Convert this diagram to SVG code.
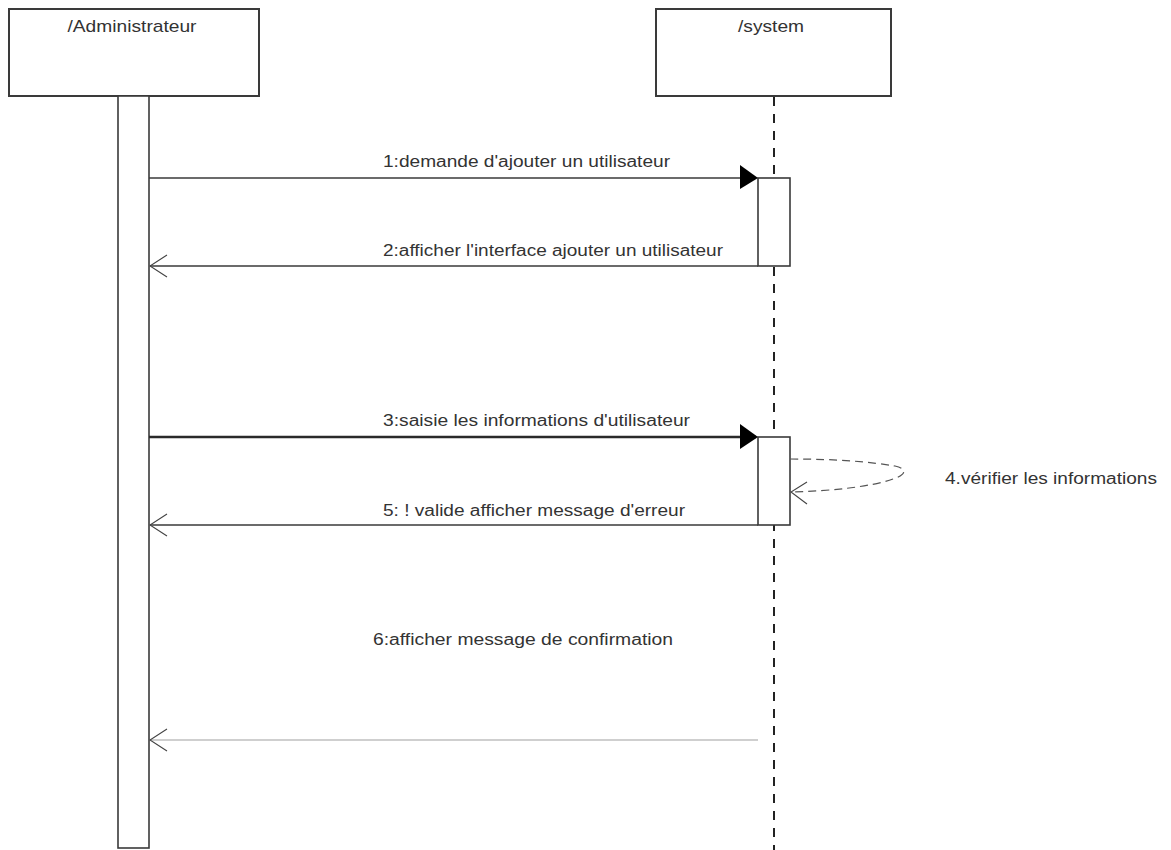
<svg xmlns="http://www.w3.org/2000/svg" width="1171" height="850" viewBox="0 0 1171 850">
  <style>
    .box { fill: #ffffff; stroke: #3a3a3a; stroke-width: 2; }
    .bar { fill: #ffffff; stroke: #3a3a3a; stroke-width: 1.6; }
    .title { font-family: "Liberation Sans", Arial, sans-serif; font-size: 17px; fill: #333333; }
    .lbl { font-family: "Liberation Sans", Arial, sans-serif; font-size: 16px; fill: #333333; }
    .msg { fill: none; stroke: #3a3a3a; stroke-width: 1.6; }
    .msg-bold { fill: none; stroke: #2a2a2a; stroke-width: 2.4; }
    .msg-light { fill: none; stroke: #cfcfcf; stroke-width: 1.8; }
    .open { fill: none; stroke: #444444; stroke-width: 1.1; }
    .solid { fill: #000000; stroke: none; }
    .life { stroke: #222222; stroke-width: 2; stroke-dasharray: 9 8; }
    .self { fill: none; stroke: #555555; stroke-width: 1.2; stroke-dasharray: 8 5; }
  </style>

  <rect width="1171" height="850" fill="#ffffff"/>

  <!-- system lifeline -->
  <g id="lifeline-system">
    <line class="life" x1="774" y1="97" x2="774" y2="850"/>
  </g>

  <!-- participant: administrateur -->
  <g id="node-administrateur">
    <rect class="box" x="9" y="9" width="250" height="87"/>
    <text class="title" x="132" y="32" text-anchor="middle" textLength="129" lengthAdjust="spacingAndGlyphs">/Administrateur</text>
    <rect class="bar" x="118" y="96" width="31" height="752"/>
  </g>

  <!-- participant: system -->
  <g id="node-system">
    <rect class="box" x="656" y="9" width="235" height="87"/>
    <text class="title" x="771" y="32" text-anchor="middle" textLength="66" lengthAdjust="spacingAndGlyphs">/system</text>
  </g>

  <!-- activations on the system lifeline -->
  <g id="node-activation-1">
    <rect class="bar" x="758" y="178" width="32" height="88"/>
  </g>
  <g id="node-activation-2">
    <rect class="bar" x="758" y="437" width="32" height="88"/>
  </g>

  <!-- messages -->
  <g id="connectors">
    <!-- 1 -->
    <line class="msg" x1="149" y1="178" x2="756" y2="178"/>
    <polygon class="solid" points="740,165 758,178 740,189"/>
    <!-- 2 -->
    <line class="msg" x1="758" y1="266" x2="150" y2="266"/>
    <polyline class="open" points="167,255 150,266 167,277"/>
    <!-- 3 -->
    <line class="msg-bold" x1="149" y1="437" x2="756" y2="437"/>
    <polygon class="solid" points="740,424 758,437 740,449"/>
    <!-- 4 (self call) -->
    <path class="self" d="M790,459 C840,459 870,462 895,466 C908,469 906,475 893,479 C870,487 830,491 792,492"/>
    <polyline class="open" points="807,482 791,492 807,504"/>
    <!-- 5 -->
    <line class="msg" x1="758" y1="525" x2="150" y2="525"/>
    <polyline class="open" points="167,514 150,525 167,536"/>
    <!-- 6 -->
    <line class="msg-light" x1="758" y1="740" x2="150" y2="740"/>
    <polyline class="open" points="167,729 150,740 167,751"/>
  </g>

  <!-- message labels -->
  <g id="labels">
    <text class="lbl" x="383" y="167" textLength="287" lengthAdjust="spacingAndGlyphs">1:demande d'ajouter un utilisateur</text>
    <text class="lbl" x="383" y="256" textLength="340" lengthAdjust="spacingAndGlyphs">2:afficher l'interface ajouter un utilisateur</text>
    <text class="lbl" x="383" y="426" textLength="307" lengthAdjust="spacingAndGlyphs">3:saisie les informations d'utilisateur</text>
    <text class="lbl" x="945" y="484" textLength="212" lengthAdjust="spacingAndGlyphs">4.vérifier les informations</text>
    <text class="lbl" x="383" y="516" textLength="302" lengthAdjust="spacingAndGlyphs">5: ! valide afficher message d'erreur</text>
    <text class="lbl" x="373" y="645" textLength="300" lengthAdjust="spacingAndGlyphs">6:afficher message de confirmation</text>
  </g>
</svg>
